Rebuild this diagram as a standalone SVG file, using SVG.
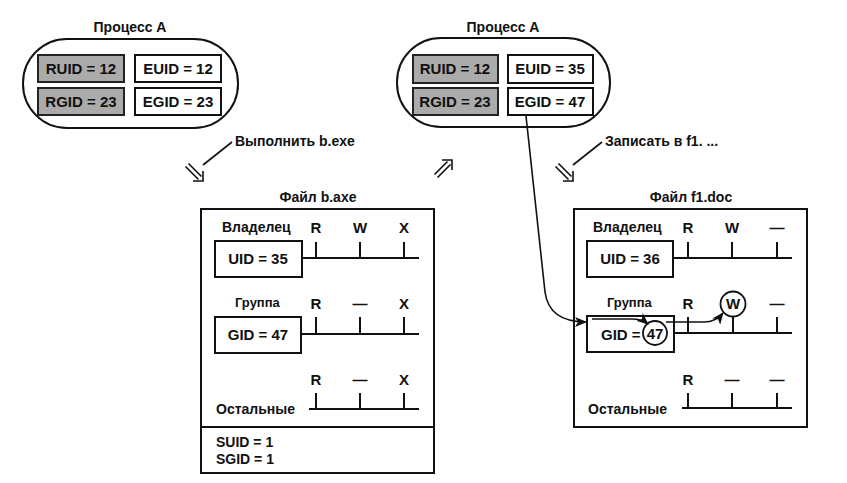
<svg xmlns="http://www.w3.org/2000/svg" width="847" height="483" viewBox="0 0 847 483">
<style>
text{font-family:"Liberation Sans",Arial,sans-serif;font-weight:bold;fill:#111}
.t{font-size:14px}
.v{font-size:15px}
.s{font-size:14px}
.g{font-size:13px}
.c{text-anchor:middle}
.box{fill:#fff;stroke:#111;stroke-width:2}
.sh{fill:#ababab;stroke:#222;stroke-width:2}
.cap{fill:#fff;stroke:#111;stroke-width:2}
.ln{stroke:#111;stroke-width:2;fill:none}
.thin{stroke:#111;stroke-width:1.6;fill:none}
.circ{fill:#fff;stroke:#111;stroke-width:1.8}
</style>
<defs>
<marker id="ah" viewBox="0 0 12 10" refX="11" refY="5" markerWidth="12" markerHeight="10" markerUnits="userSpaceOnUse" orient="auto">
<path d="M0,0 L12,5 L0,10 L3,5 Z" fill="#111"/>
</marker>
<g id="dbl">
<path d="M-17.5,-14.5 L-4.5,-1.5 M-14.5,-17.5 L-1.5,-4.5" class="thin"/>
<path d="M-10,0 L0,0 L0,-10" class="thin"/>
</g>
</defs>

<g id="procA1">
<text class="t c" x="130" y="32">Процесс A</text>
<rect class="cap" x="23" y="39" width="215" height="89" rx="44" ry="44"/>
<rect class="sh" x="38" y="55" width="86" height="27"/>
<text class="v c" x="81" y="74">RUID = 12</text>
<rect class="box" x="135" y="55" width="86" height="27"/>
<text class="v c" x="178" y="74">EUID = 12</text>
<rect class="sh" x="38" y="88" width="86" height="27"/>
<text class="v c" x="81" y="107">RGID = 23</text>
<rect class="box" x="135" y="88" width="86" height="27"/>
<text class="v c" x="178" y="107">EGID = 23</text>
</g>

<g id="procA2">
<text class="t c" x="503" y="32">Процесс A</text>
<rect class="cap" x="397" y="38" width="213" height="89" rx="44" ry="44"/>
<rect class="sh" x="413" y="55" width="85" height="28"/>
<text class="v c" x="455" y="74">RUID = 12</text>
<rect class="box" x="508" y="55" width="85" height="28"/>
<text class="v c" x="550" y="74">EUID = 35</text>
<rect class="sh" x="413" y="88" width="85" height="27"/>
<text class="v c" x="455" y="107">RGID = 23</text>
<rect class="box" x="508" y="88" width="85" height="27"/>
<text class="v c" x="550" y="107">EGID = 47</text>
</g>

<g id="cmd1">
<text class="t" x="235" y="146">Выполнить b.exe</text>
<path class="thin" d="M232,142 L203,165"/>
<use href="#dbl" x="203" y="181"/>
</g>

<g id="back">
<use href="#dbl" transform="translate(452,160) rotate(-90)"/>
</g>

<g id="cmd2">
<text class="t" x="605" y="146">Записать в f1. ...</text>
<path class="thin" d="M602,142 L573,165"/>
<use href="#dbl" x="573" y="181"/>
</g>

<g id="fileB">
<text class="t c" x="318" y="202">Файл b.axe</text>
<rect class="box" x="201" y="209" width="233" height="264"/>
<path class="ln" d="M201,427 H434"/>
<text class="t" x="222" y="232">Владелец</text>
<text class="v c" x="316" y="233">R</text>
<text class="v c" x="360" y="233">W</text>
<text class="v c" x="404" y="233">X</text>
<rect class="box" x="215" y="241" width="87" height="36"/>
<text class="v c" x="258" y="264">UID = 35</text>
<path class="ln" d="M302,258 H419 M316,242 V258 M360,242 V258 M404,242 V258"/>
<text class="g" x="235" y="307">Группа</text>
<text class="v c" x="316" y="309">R</text>
<text class="v c" x="360" y="309">—</text>
<text class="v c" x="404" y="309">X</text>
<rect class="box" x="215" y="317" width="86" height="36"/>
<text class="v c" x="258" y="340">GID = 47</text>
<path class="ln" d="M301,334 H419 M316,317 V334 M360,317 V334 M404,317 V334"/>
<text class="v c" x="316" y="385">R</text>
<text class="v c" x="360" y="385">—</text>
<text class="v c" x="404" y="385">X</text>
<path class="ln" d="M309,409 H419 M316,393 V409 M360,393 V409 M404,393 V409"/>
<text class="t" x="216" y="414">Остальные</text>
<text class="s" x="216" y="447">SUID = 1</text>
<text class="s" x="216" y="464">SGID = 1</text>
</g>

<g id="fileF">
<text class="t c" x="691" y="202">Файл f1.doc</text>
<rect class="box" x="574" y="209" width="233" height="218"/>
<text class="t" x="593" y="232">Владелец</text>
<text class="v c" x="688" y="233">R</text>
<text class="v c" x="732" y="233">W</text>
<text class="v c" x="777" y="233">—</text>
<rect class="box" x="587" y="241" width="86" height="36"/>
<text class="v c" x="630" y="264">UID = 36</text>
<path class="ln" d="M673,258 H792 M688,242 V258 M732,242 V258 M777,242 V258"/>
<text class="g" x="607" y="307">Группа</text>
<text class="v c" x="688" y="309">R</text>
<circle class="circ" cx="733" cy="304" r="12.5"/>
<text class="v c" x="733" y="309">W</text>
<text class="v c" x="777" y="309">—</text>
<rect class="box" x="587" y="316" width="87" height="36"/>
<text class="v" x="601" y="340">GID =</text>
<circle class="circ" cx="655" cy="333" r="12"/>
<text class="v c" x="655" y="339">47</text>
<path class="ln" d="M674,333 H792 M688,317 V333 M733,317 V333 M777,317 V333"/>
<text class="v c" x="688" y="385">R</text>
<text class="v c" x="732" y="385">—</text>
<text class="v c" x="777" y="385">—</text>
<path class="ln" d="M682,408 H792 M688,393 V408 M732,393 V408 M777,393 V408"/>
<text class="t" x="588" y="414">Остальные</text>
</g>

<g id="connectors">
<path class="thin" d="M526,116 L545,292 Q549,322 586,322" marker-end="url(#ah)"/>
<path class="thin" d="M592,319 L632,319 Q642,319 648,324" marker-end="url(#ah)"/>
<path class="thin" d="M666,322 L704,322 Q716,322 723,313" marker-end="url(#ah)"/>
</g>
</svg>
